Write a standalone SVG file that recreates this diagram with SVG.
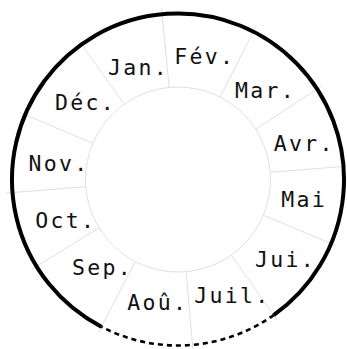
<svg xmlns="http://www.w3.org/2000/svg" width="347" height="349" viewBox="0 0 347 349">
<style>
.div{stroke:#e0e0e0;stroke-width:1;fill:none}
.solid{stroke:#000;stroke-width:4;fill:none}
.dash{stroke:#000;stroke-width:2.6;fill:none;stroke-dasharray:5 4}
.lbl{font-family:"DejaVu Sans Mono","Liberation Mono",monospace;font-size:21.5px;letter-spacing:2.3px;fill:#111;text-anchor:middle}
</style>
<rect width="347" height="349" fill="#fff"/>
<g id="dividers">
<circle class="div" cx="178" cy="179.5" r="92.5"/>
<line class="div" x1="169.14" y1="87.43" x2="161.52" y2="8.29"/>
<line class="div" x1="220.00" y1="97.08" x2="256.09" y2="26.25"/>
<line class="div" x1="255.58" y1="129.12" x2="322.26" y2="85.83"/>
<line class="div" x1="270.21" y1="172.24" x2="349.47" y2="166.00"/>
<line class="div" x1="263.33" y1="215.20" x2="336.67" y2="245.87"/>
<line class="div" x1="231.32" y1="255.08" x2="277.14" y2="320.04"/>
<line class="div" x1="186.07" y1="271.65" x2="192.99" y2="350.85"/>
<line class="div" x1="135.29" y1="261.55" x2="98.59" y2="332.06"/>
<line class="div" x1="99.13" y1="227.83" x2="31.35" y2="269.37"/>
<line class="div" x1="85.79" y1="186.76" x2="6.53" y2="193.00"/>
<line class="div" x1="92.85" y1="143.36" x2="19.67" y2="112.30"/>
<line class="div" x1="124.29" y1="104.20" x2="78.12" y2="39.47"/>
</g>
<g id="connectors">
<path class="solid" d="M 101.36 326.74 A 166 166 0 1 1 273.68 315.14"/>
<path class="dash" d="M 273.68 315.14 A 166 166 0 0 1 101.36 326.74"/>
</g>
<g id="jan"><text class="lbl" x="138.6" y="74.5">Jan.</text></g>
<g id="fev"><text class="lbl" x="204.8" y="63.5">Fév.</text></g>
<g id="mar"><text class="lbl" x="265.6" y="98.3">Mar.</text></g>
<g id="avr"><text class="lbl" x="304.3" y="151">Avr.</text></g>
<g id="mai"><text class="lbl" x="304.2" y="206.7">Mai</text></g>
<g id="jui"><text class="lbl" x="285.4" y="266.7">Jui.</text></g>
<g id="juil"><text class="lbl" x="232.3" y="303.3">Juil.</text></g>
<g id="aou"><text class="lbl" x="157.7" y="310">Aoû.</text></g>
<g id="sep"><text class="lbl" x="102.6" y="275">Sep.</text></g>
<g id="oct"><text class="lbl" x="65.8" y="227.7">Oct.</text></g>
<g id="nov"><text class="lbl" x="59" y="170.7">Nov.</text></g>
<g id="dec"><text class="lbl" x="85.6" y="110">Déc.</text></g>
</svg>
